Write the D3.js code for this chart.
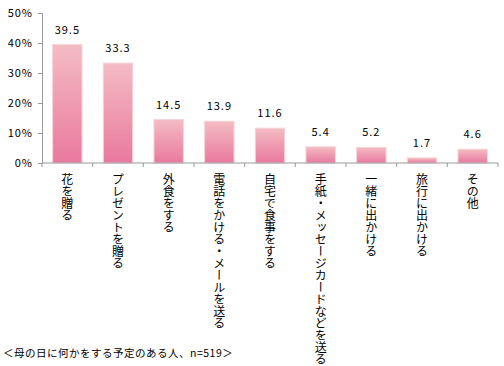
<!DOCTYPE html>
<html>
<head>
<meta charset="utf-8">
<script src="https://cdn.jsdelivr.net/npm/d3@7"></script>
<style>
  body { margin: 0; background: #fff; }
  text { font-family: "Noto Sans CJK JP", "DejaVu Sans", sans-serif; fill: #000; }
</style>
</head>
<body>
<div id="chartDIV"></div>
<script>
var categories = ["花を贈る", "プレゼントを贈る", "外食をする", "電話をかける・メールを送る",
                  "自宅で食事をする", "手紙・メッセージカードなどを送る", "一緒に出かける", "旅行に出かける", "その他"];
var values = [39.5, 33.3, 14.5, 13.9, 11.6, 5.4, 5.2, 1.7, 4.6];
var yTicks = [0, 10, 20, 30, 40, 50];
var footnote = "＜母の日に何かをする予定のある人、n=519＞";

var WIDTH = 504, HEIGHT = 366;
var AXIS_LEFT = 42, AXIS_RIGHT = 498;
var AXIS_TOP = 13, AXIS_BOTTOM = 163;

var svg = d3.select("#chartDIV")
  .append("svg")
  .attr("width", WIDTH)
  .attr("height", HEIGHT);

var x = d3.scaleBand()
  .domain(categories)
  .range([AXIS_LEFT, AXIS_RIGHT])
  .paddingInner(0.42)
  .paddingOuter(0.21);

var y = d3.scaleLinear()
  .domain([0, 50])
  .range([AXIS_BOTTOM, AXIS_TOP]);

//vertical gradient, light pink at top to deeper pink at bottom
var grad = svg.append("defs").append("linearGradient")
  .attr("id", "barGrad")
  .attr("x1", 0).attr("y1", 0).attr("x2", 0).attr("y2", 1);
grad.append("stop").attr("offset", "0%").attr("stop-color", "#f4bcc3");
grad.append("stop").attr("offset", "100%").attr("stop-color", "#e9799f");

svg.selectAll(".bar")
  .data(values)
  .enter()
  .append("rect")
  .attr("class", "bar")
  .attr("x", function(d, i) { return x(categories[i]); })
  .attr("y", function(d) { return y(d); })
  .attr("width", x.bandwidth())
  .attr("height", function(d) { return y(0) - y(d); })
  .attr("fill", "url(#barGrad)")
  .attr("stroke", "#f6d3d8")
  .attr("stroke-width", 1);

//value labels
svg.selectAll(".valueText")
  .data(values)
  .enter()
  .append("text")
  .attr("class", "valueText")
  .attr("x", function(d, i) { return x(categories[i]) + x.bandwidth() / 2; })
  .attr("y", function(d) { return y(d) - 11; })
  .attr("text-anchor", "middle")
  .attr("font-size", "11px")
  .attr("letter-spacing", "1px")
  .text(function(d) { return d.toFixed(1); });

//y axis
var yAxis = d3.axisLeft(y)
  .tickValues(yTicks)
  .tickSize(4)
  .tickFormat(function(d) { return d + "%"; });
var yG = svg.append("g")
  .attr("transform", "translate(" + AXIS_LEFT + ",0)")
  .call(yAxis);
yG.select(".domain").attr("stroke", "#999");
yG.selectAll(".tick line").attr("stroke", "#999");
yG.selectAll(".tick text")
  .attr("x", -9)
  .attr("font-size", "11px")
  .attr("letter-spacing", "1px")
  .style("font-family", "'Noto Sans CJK JP', sans-serif");

//x axis line with ticks between categories
svg.append("line")
  .attr("x1", AXIS_LEFT).attr("x2", AXIS_RIGHT)
  .attr("y1", AXIS_BOTTOM).attr("y2", AXIS_BOTTOM)
  .attr("stroke", "#999");
var step = (AXIS_RIGHT - AXIS_LEFT) / categories.length;
svg.selectAll(".xTick")
  .data(d3.range(categories.length + 1))
  .enter()
  .append("line")
  .attr("class", "xTick")
  .attr("x1", function(d) { return AXIS_LEFT + d * step; })
  .attr("x2", function(d) { return AXIS_LEFT + d * step; })
  .attr("y1", AXIS_BOTTOM)
  .attr("y2", AXIS_BOTTOM + 4)
  .attr("stroke", "#999");

//vertical category labels
svg.selectAll(".catText")
  .data(categories)
  .enter()
  .append("text")
  .attr("class", "catText")
  .attr("x", function(d) { return x(d) + x.bandwidth() / 2; })
  .attr("y", 173)
  .style("writing-mode", "vertical-rl")
  .style("glyph-orientation-vertical", "0")
  .attr("font-size", "12px")
  .text(function(d) { return d; });

svg.append("text")
  .attr("x", 3)
  .attr("y", 357)
  .attr("font-size", "10.5px")
  .attr("letter-spacing", "0.5px")
  .text(footnote);
</script>
</body>
</html>
